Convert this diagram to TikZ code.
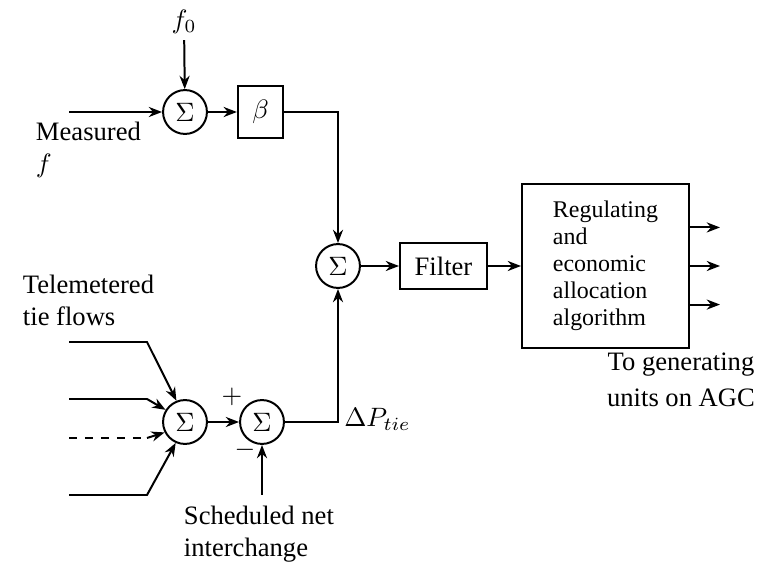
\documentclass[tikz,border=0pt]{standalone}
\usepackage{fontspec}
\setmainfont{Liberation Serif}
\usepackage{amsmath}
\usetikzlibrary{arrows.meta}

\begin{document}
\begin{tikzpicture}
[
    x = 0.376pt, y = -0.376pt,
    line width = 0.75pt,
    >= {Stealth[length=5pt, width=3.8pt]},
    sum/.style = {draw, circle, inner sep = 0pt, minimum size = 16.5pt},
    block/.style = {draw, rectangle, inner sep = 0pt},
    txt/.style = {inner sep = 0pt, align = left},
]
\useasboundingbox (0,0) rectangle (773,563);

% upper branch
\node (f0) [inner sep = 2pt] at (184,22) {$f_0$};
\node (sumF) [sum] at (185,112) {$\Sigma$};
\node (beta) [block, minimum width = 17pt, minimum height = 19.5pt] at (260.5,112) {$\beta$};
\coordinate (mf) at (69,112);
\node (meas) [txt, anchor = north west] at (35,121) {Measured\\$f$};

% middle
\node (sumC) [sum] at (338,266) {$\Sigma$};
\node (filter) [block, minimum width = 32.7pt, minimum height = 17.3pt] at (443.5,266) {Filter};
\node (alloc) [block, minimum width = 62.8pt, minimum height = 61.3pt, align = left,
    font = \fontsize{9}{10.2}\selectfont] at (605.5,266)
    {Regulating\\and\\economic\\allocation\\algorithm};
\node (agc) [inner sep = 0pt, align = center, anchor = north] at (681,352)
    {To generating\\[1.5pt]units on AGC};

% lower branch
\node (sumT) [sum] at (185,422) {$\Sigma$};
\node (sumD) [sum] at (262,422) {$\Sigma$};
\node (tie) [txt, anchor = north west] at (22,274) {Telemetered\\tie flows};
\node (sched) [txt, anchor = north west] at (183,505) {Scheduled net\\interchange};
\node (plus) at ([shift={(-30,-25)}]sumD) {$+$};
\node (minus) at ([shift={(-17,28)}]sumD) {$-$};
\coordinate (t1) at (69,342);
\coordinate (t2) at (69,399);
\coordinate (t3) at (69,438);
\coordinate (t4) at (69,495);
\coordinate (sn) at (262,495);
\coordinate (cornerD) at (338,422);
\node (dp) [inner sep = 2pt, anchor = west] at ([yshift=1pt]cornerD) {$\Delta P_{tie}$};

\draw[->] (f0) -- (sumF);
\draw[->] (mf) -- (sumF);
\draw[->] (sumF) -- (beta);
\draw[->] (beta) -| (sumC);
\draw[->] (sumC) -- (filter);
\draw[->] (filter) -- (alloc);
\foreach \dy in {14.5pt, 0pt, -14.5pt}
    \draw[->] ([yshift=\dy]alloc.east) -- ++(30,0);

\draw[->] (t1) -- (147,342) -- (sumT.112);
\draw[->] (t2) -- (147,399) -- (sumT.148);
\draw[dashed] (t3) -- (147,438);
\draw[->] (147,438) -- (sumT.207);
\draw[->] (t4) -- (147,495) -- (sumT.246);
\draw[->] (sumT) -- (sumD);
\draw[->] (sn) -- (sumD);
\draw[->] (sumD) -- (cornerD) -- (sumC);
\end{tikzpicture}
\end{document}
